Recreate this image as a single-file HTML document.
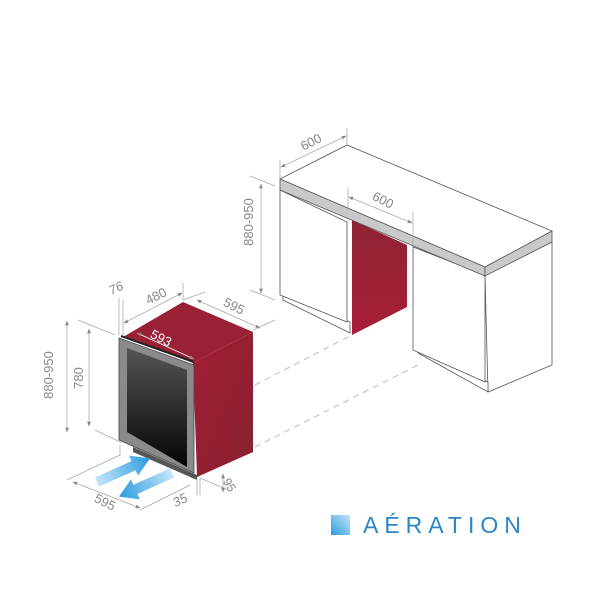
<!DOCTYPE html>
<html><head><meta charset="utf-8"><style>
html,body{margin:0;padding:0;background:#fff;}
svg{display:block;}
text{font-family:"Liberation Sans","DejaVu Sans",sans-serif;fill:#888;}
</style></head><body>
<svg width="600" height="600" viewBox="0 0 600 600" xmlns="http://www.w3.org/2000/svg">
<defs>
<linearGradient id="red" x1="0" y1="0" x2="0" y2="1">
<stop offset="0" stop-color="#8e2333"/><stop offset="1" stop-color="#a81e36"/></linearGradient>
<linearGradient id="red2" x1="0" y1="0" x2="1" y2="1">
<stop offset="0" stop-color="#a31d35"/><stop offset="1" stop-color="#86222f"/></linearGradient>
<linearGradient id="glass" x1="0" y1="0" x2="0" y2="1">
<stop offset="0" stop-color="#555"/><stop offset="1" stop-color="#050505"/></linearGradient>
<linearGradient id="blue" x1="0" y1="0" x2="1" y2="0">
<stop offset="0" stop-color="#c6e6f8"/><stop offset="1" stop-color="#2a9be0"/></linearGradient>
<linearGradient id="sq" x1="1" y1="0" x2="0" y2="1">
<stop offset="0" stop-color="#c6e6f8"/><stop offset="1" stop-color="#2a9be0"/></linearGradient>
<marker id="ar" viewBox="0 0 10 10" refX="9" refY="5" markerWidth="6" markerHeight="6" orient="auto-start-reverse"><path d="M0,1 L10,5 L0,9 z" fill="#888"/></marker>
</defs>

<g stroke="#bbb" stroke-width="1" stroke-dasharray="6,5" fill="none">
<line x1="255" y1="385" x2="352" y2="335"/>
<line x1="255" y1="447" x2="418" y2="365"/>
</g>

<g stroke="#555" stroke-width="0.8" fill="#fff">
<polygon points="283,300 350,333 350,322 283,290"/>
<polygon points="280,190 347,222 347,322 280,295"/>
<polygon points="352,220 407,245 407,307 352,335" fill="url(#red)" stroke="none"/>
<polygon points="485,275 552,242 552,365 488,392"/>
<polygon points="418,353 488,392 488,382 418,350"/>
<polygon points="413,247 485,275 485,382 413,350"/>
<polygon points="280,179 347,145 552,231 485,267"/>
<polygon points="280,179 485,267 485,276 280,190" fill="#c9c9c9"/>
<polygon points="485,267 552,231 552,242 485,276" fill="#c9c9c9"/>
</g>
<g stroke="#aaa" stroke-width="0.8" fill="none">
<line x1="280" y1="178" x2="280" y2="160"/><line x1="347" y1="144" x2="347" y2="128"/>
<line x1="281" y1="167" x2="346" y2="136" marker-start="url(#ar)" marker-end="url(#ar)"/>
<line x1="348" y1="210" x2="348" y2="188"/><line x1="413" y1="245" x2="413" y2="212"/>
<line x1="349" y1="197" x2="412" y2="223" marker-start="url(#ar)" marker-end="url(#ar)"/>
<line x1="250" y1="176" x2="275" y2="186"/><line x1="250" y1="290" x2="275" y2="300"/>
<line x1="261" y1="184" x2="261" y2="293" marker-start="url(#ar)" marker-end="url(#ar)"/>
</g>
<text x="313" y="146" font-size="13" transform="rotate(-27 313 146)" text-anchor="middle">600</text>
<text x="381" y="204" font-size="13" transform="rotate(27 381 204)" text-anchor="middle">600</text>
<text x="253" y="222" font-size="13" transform="rotate(-90 253 222)" text-anchor="middle">880-950</text>

<polygon points="193,363 253,332 253,452 197,477" fill="url(#red2)"/>
<polygon points="123,337 183,302 253,332 193,363" fill="#9a2035"/>
<polygon points="133,447 197,475 197,480 133,452" fill="#555"/>
<polygon points="119,338 194,365 194,473 119,440" fill="#8a8a8a" stroke="#444" stroke-width="0.8"/>
<polygon points="127,348 187,370 187,467 127,432" fill="url(#glass)"/>
<line x1="121" y1="336" x2="194" y2="362" stroke="#222" stroke-width="2"/>

<g stroke="#aaa" stroke-width="0.8" fill="none">
<line x1="78" y1="320" x2="115" y2="335"/><line x1="95" y1="430" x2="122" y2="443"/>
<line x1="67" y1="321" x2="67" y2="432" marker-start="url(#ar)" marker-end="url(#ar)"/>
<line x1="89" y1="329" x2="89" y2="426" marker-start="url(#ar)" marker-end="url(#ar)"/>
<line x1="119" y1="298" x2="119" y2="335"/><line x1="123" y1="300" x2="123" y2="335"/>
<line x1="183" y1="300" x2="183" y2="283"/>
<line x1="124" y1="323" x2="182" y2="293" marker-start="url(#ar)" marker-end="url(#ar)"/>
<line x1="197" y1="300" x2="260" y2="328" marker-start="url(#ar)" marker-end="url(#ar)"/>
<line x1="253" y1="330" x2="275" y2="320"/><line x1="183" y1="300" x2="205" y2="292"/>
<line x1="67" y1="480" x2="120" y2="455"/><line x1="120" y1="455" x2="120" y2="445"/>
<line x1="73" y1="482" x2="140" y2="508" marker-start="url(#ar)" marker-end="url(#ar)"/>
<line x1="140" y1="510" x2="190" y2="485"/>
<line x1="197" y1="478" x2="197" y2="495"/><line x1="200" y1="478" x2="200" y2="495"/>
<line x1="200" y1="478" x2="228" y2="490"/>
<line x1="223" y1="474" x2="223" y2="492" marker-start="url(#ar)" marker-end="url(#ar)"/>
</g>
<line x1="137" y1="333" x2="194" y2="359" stroke="#fff" stroke-width="0.8" marker-start="url(#ar)" marker-end="url(#ar)"/>
<text x="53" y="375" font-size="13" transform="rotate(-90 53 375)" text-anchor="middle">880-950</text>
<text x="83" y="378" font-size="13" transform="rotate(-90 83 378)" text-anchor="middle">780</text>
<text x="118" y="292" font-size="13" transform="rotate(-27 118 292)" text-anchor="middle" font-style="italic">76</text>
<text x="158" y="300" font-size="13" transform="rotate(-27 158 300)" text-anchor="middle">480</text>
<text x="232" y="310" font-size="13" transform="rotate(27 232 310)" text-anchor="middle">595</text>
<text x="159" y="342" font-size="13" transform="rotate(27 159 342)" text-anchor="middle" style="fill:#fff">593</text>
<text x="103" y="506" font-size="13" transform="rotate(27 103 506)" text-anchor="middle">595</text>
<text x="182" y="504" font-size="13" transform="rotate(-27 182 504)" text-anchor="middle" font-style="italic">35</text>
<text x="226" y="487" font-size="12" transform="rotate(60 226 487)" text-anchor="middle">95</text>

<!-- blue arrows -->
<g transform="translate(97,482) rotate(-24)">
<polygon points="0,-5 40,-5 40,-11 58,0 40,11 40,5 0,5" fill="url(#blue)"/>
</g>
<g transform="translate(172,473) rotate(156)">
<polygon points="0,-5 40,-5 40,-11 58,0 40,11 40,5 0,5" fill="url(#blue)"/>
</g>

<rect x="331" y="515" width="19" height="20" fill="url(#sq)"/>
<text x="363" y="533" font-size="23" letter-spacing="6" style="fill:#2b86c8">AÉRATION</text>
</svg>
</body></html>
